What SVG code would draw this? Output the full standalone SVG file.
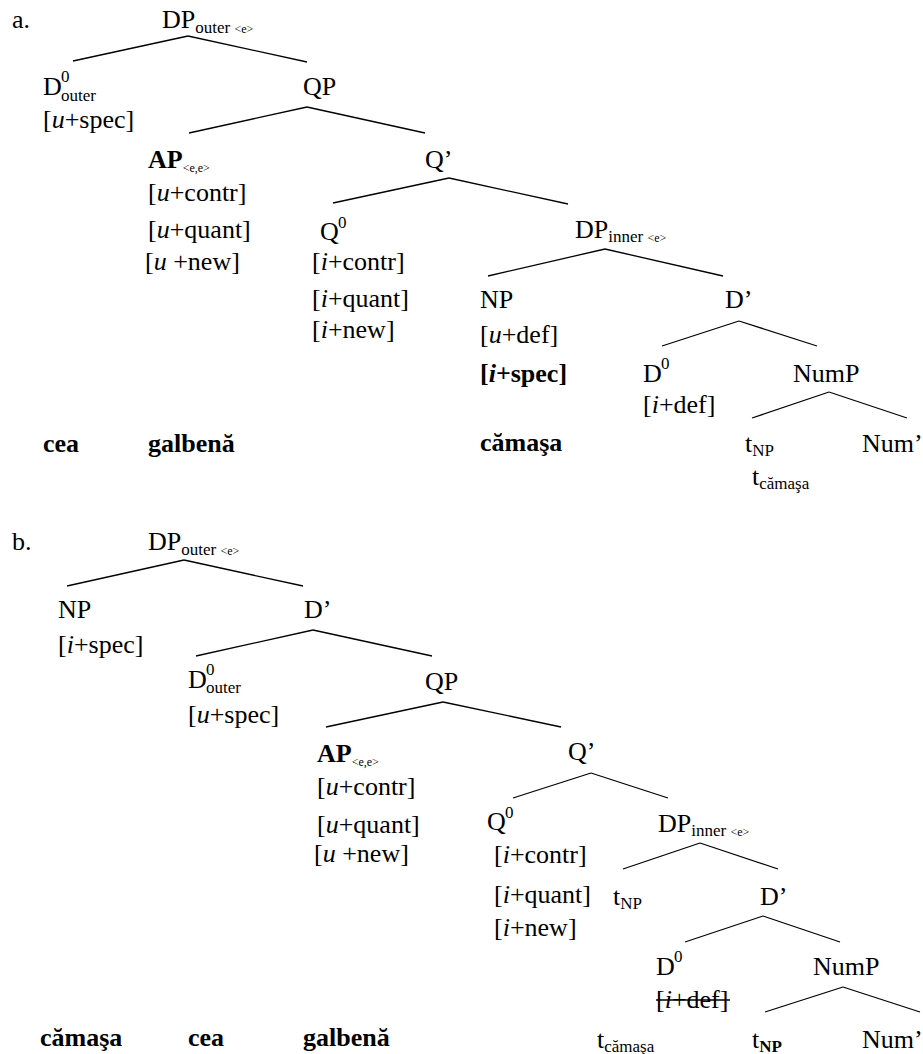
<svg xmlns="http://www.w3.org/2000/svg" width="923" height="1054" viewBox="0 0 923 1054">
<style>
text{font-family:'Liberation Serif','Times New Roman',serif;font-size:26px;fill:#000}
.b{font-weight:bold}
.i{font-style:italic}
.s{font-size:17px}
.xs{font-size:12px}
.sup{font-size:17px}
line{stroke:#000;stroke-width:1.3}
</style>
<rect width="923" height="1054" fill="#fff"/>
<g id="connectors">
<line x1="188" y1="36" x2="73" y2="61"/><line x1="188" y1="36" x2="307" y2="62"/>
<line x1="307" y1="107" x2="189" y2="133"/><line x1="307" y1="107" x2="425" y2="133"/>
<line x1="449" y1="178" x2="333" y2="203"/><line x1="449" y1="178" x2="568" y2="204"/>
<line x1="605" y1="249" x2="488" y2="276"/><line x1="605" y1="249" x2="723" y2="276"/>
<line x1="739" y1="321" x2="662" y2="346"/><line x1="739" y1="321" x2="817" y2="346"/>
<line x1="829" y1="392" x2="752" y2="418"/><line x1="829" y1="392" x2="907" y2="418"/>
<line x1="184" y1="560" x2="67" y2="586"/><line x1="184" y1="560" x2="303" y2="586"/>
<line x1="313" y1="630" x2="196" y2="656"/><line x1="313" y1="630" x2="432" y2="656"/>
<line x1="443" y1="702" x2="326" y2="727"/><line x1="443" y1="702" x2="561" y2="727"/>
<line x1="591" y1="773" x2="513" y2="798"/><line x1="591" y1="773" x2="668" y2="798"/>
<line x1="700" y1="843" x2="623" y2="869"/><line x1="700" y1="843" x2="778" y2="869"/>
<line x1="763" y1="916" x2="685" y2="942"/><line x1="763" y1="916" x2="840" y2="942"/>
<line x1="843" y1="987" x2="765" y2="1012"/><line x1="843" y1="987" x2="920" y2="1012"/>
</g>
<!-- Tree a -->
<g id="label-a"><text x="12" y="28">a.</text></g>
<g id="a-DPouter"><text x="162" y="28">DP<tspan class="s" dy="5">outer </tspan><tspan class="xs">&lt;e&gt;</tspan></text></g>
<g id="a-D0outer"><text x="43" y="95">D</text><text class="sup" x="61" y="82">0</text><text class="s" x="61" y="101">outer</text><text x="43" y="128">[<tspan class="i">u</tspan>+spec]</text></g>
<g id="a-QP"><text x="303" y="95">QP</text></g>
<g id="a-AP"><text x="148" y="168"><tspan class="b">AP</tspan><tspan class="xs" dy="4">&lt;e,e&gt;</tspan></text><text x="148" y="201">[<tspan class="i">u</tspan>+contr]</text><text x="148" y="238">[<tspan class="i">u</tspan>+quant]</text><text x="145" y="270">[<tspan class="i">u</tspan> +new]</text></g>
<g id="a-Qbar"><text x="425" y="168">Q’</text></g>
<g id="a-Q0"><text x="320" y="240">Q</text><text class="sup" x="338" y="228">0</text><text x="312" y="270">[<tspan class="i">i</tspan>+contr]</text><text x="312" y="307">[<tspan class="i">i</tspan>+quant]</text><text x="312" y="338">[<tspan class="i">i</tspan>+new]</text></g>
<g id="a-DPinner"><text x="575" y="238">DP<tspan class="s" dy="4">inner </tspan><tspan class="xs">&lt;e&gt;</tspan></text></g>
<g id="a-NP"><text x="480" y="308">NP</text><text x="480" y="343">[<tspan class="i">u</tspan>+def]</text><text class="b" x="480" y="382">[<tspan class="i">i</tspan>+spec]</text></g>
<g id="a-Dbar"><text x="725" y="308">D’</text></g>
<g id="a-D0"><text x="643" y="382">D</text><text class="sup" x="661" y="369">0</text><text x="643" y="413">[<tspan class="i">i</tspan>+def]</text></g>
<g id="a-NumP"><text x="793" y="382">NumP</text></g>
<g id="a-tNP"><text x="745" y="452">t<tspan class="s" dy="4">NP</tspan></text><text x="752" y="485">t<tspan class="s" dy="4">cămaşa</tspan></text></g>
<g id="a-Numbar"><text x="862" y="452">Num’</text></g>
<g id="a-words"><text class="b" x="43" y="452">cea</text><text class="b" x="148" y="452">galbenă</text><text class="b" x="480" y="451">cămaşa</text></g>
<!-- Tree b -->
<g id="label-b"><text x="12" y="550">b.</text></g>
<g id="b-DPouter"><text x="148" y="550">DP<tspan class="s" dy="5">outer </tspan><tspan class="xs">&lt;e&gt;</tspan></text></g>
<g id="b-NP"><text x="58" y="618">NP</text><text x="58" y="653">[<tspan class="i">i</tspan>+spec]</text></g>
<g id="b-Dbar1"><text x="304" y="618">D’</text></g>
<g id="b-D0outer"><text x="188" y="688">D</text><text class="sup" x="206" y="675">0</text><text class="s" x="206" y="693">outer</text><text x="188" y="723">[<tspan class="i">u</tspan>+spec]</text></g>
<g id="b-QP"><text x="425" y="690">QP</text></g>
<g id="b-AP"><text x="317" y="762"><tspan class="b">AP</tspan><tspan class="xs" dy="4">&lt;e,e&gt;</tspan></text><text x="317" y="795">[<tspan class="i">u</tspan>+contr]</text><text x="317" y="833">[<tspan class="i">u</tspan>+quant]</text><text x="314" y="862">[<tspan class="i">u</tspan> +new]</text></g>
<g id="b-Qbar"><text x="568" y="760">Q’</text></g>
<g id="b-Q0"><text x="487" y="830">Q</text><text class="sup" x="505" y="818">0</text><text x="494" y="863">[<tspan class="i">i</tspan>+contr]</text><text x="494" y="903">[<tspan class="i">i</tspan>+quant]</text><text x="494" y="936">[<tspan class="i">i</tspan>+new]</text></g>
<g id="b-DPinner"><text x="658" y="832">DP<tspan class="s" dy="4">inner </tspan><tspan class="xs">&lt;e&gt;</tspan></text></g>
<g id="b-tNP1"><text x="613" y="905">t<tspan class="s" dy="4">NP</tspan></text></g>
<g id="b-Dbar2"><text x="760" y="905">D’</text></g>
<g id="b-D0"><text x="656" y="975">D</text><text class="sup" x="674" y="962">0</text><text x="656" y="1008">[<tspan class="i">i</tspan>+def]</text><line x1="656" y1="1000" x2="730" y2="1000"/></g>
<g id="b-NumP"><text x="813" y="975">NumP</text></g>
<g id="b-tcamasa"><text x="597" y="1048">t<tspan class="s" dy="4">cămaşa</tspan></text></g>
<g id="b-tNP2"><text x="752" y="1048">t<tspan class="s b" dy="4">NP</tspan></text></g>
<g id="b-Numbar"><text x="862" y="1048">Num’</text></g>
<g id="b-words"><text class="b" x="40" y="1046">cămaşa</text><text class="b" x="188" y="1046">cea</text><text class="b" x="303" y="1046">galbenă</text></g>
</svg>
